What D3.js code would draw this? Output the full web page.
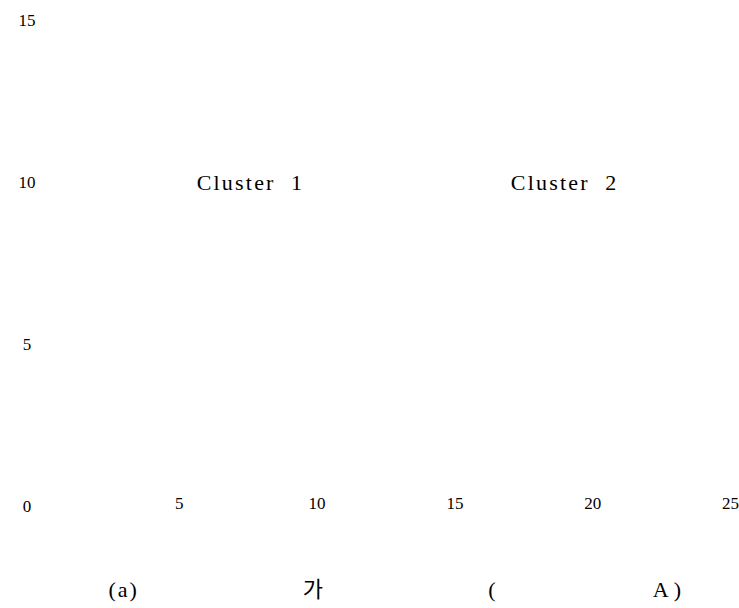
<!DOCTYPE html>
<html>
<head>
<meta charset="utf-8">
<script src="https://cdn.jsdelivr.net/npm/d3@7"></script>
<style>
  body { margin: 0; background: #fff; }
</style>
</head>
<body>
<svg width="739" height="608"></svg>
<script>
// tick values
const xTicks = [5, 10, 15, 20, 25];
const yTicks = [0, 5, 10, 15];

// cluster labels (x, y in data units)
const clusterNames = ['Cluster  1', 'Cluster  2'];
const clusterX = [7.6, 19.0];
const clusterY = [10, 10];

// caption pieces, spread along the x axis
const captionParts = ['(a)', '가', '(', 'A)'];
const captionX = [3.0, 9.9, 16.4, 22.8];

const serif = '"Liberation Serif", "DejaVu Serif", serif';

const svg = d3.select('svg');

const xScale = d3.scaleLinear()
                 .domain([0, 25])
                 .range([41, 730]);

const yScale = d3.scaleLinear()
                 .domain([0, 15])
                 .range([506, 20]);

// y axis: only labels, no line or ticks
const gY = svg.append('g')
              .attr('transform', 'translate(27,0)')
              .call(d3.axisLeft(yScale).tickValues(yTicks).tickSize(0).tickPadding(0));
gY.select('.domain').remove();
gY.selectAll('text')
  .attr('text-anchor', 'middle')
  .attr('font-family', serif)
  .attr('font-size', 17);

// x axis: labels only
const gX = svg.append('g')
              .attr('transform', 'translate(0,497)')
              .call(d3.axisBottom(xScale).tickValues(xTicks).tickSize(0).tickPadding(0));
gX.select('.domain').remove();
gX.selectAll('text')
  .attr('font-family', serif)
  .attr('font-size', 17);

svg.append('g').selectAll('text')
   .data(clusterNames)
   .enter().append('text')
   .attr('x', (d, i) => xScale(clusterX[i]))
   .attr('y', (d, i) => yScale(clusterY[i]))
   .attr('dy', '0.35em')
   .attr('text-anchor', 'middle')
   .attr('font-family', serif)
   .attr('font-size', 22)
   .attr('letter-spacing', 2.2)
   .attr('fill', '#000')
   .style('white-space', 'pre')
   .text(d => d);

svg.append('g').selectAll('text')
   .data(captionParts)
   .enter().append('text')
   .attr('x', (d, i) => xScale(captionX[i]))
   .attr('y', 597)
   .attr('text-anchor', 'middle')
   .attr('font-family', d => /[가-힣]/.test(d) ? '"Noto Sans CJK KR", sans-serif' : serif)
   .attr('font-size', 22)
   .attr('letter-spacing', d => d === 'A)' ? 5 : 2)
   .attr('fill', '#000')
   .text(d => d);
</script>
</body>
</html>
